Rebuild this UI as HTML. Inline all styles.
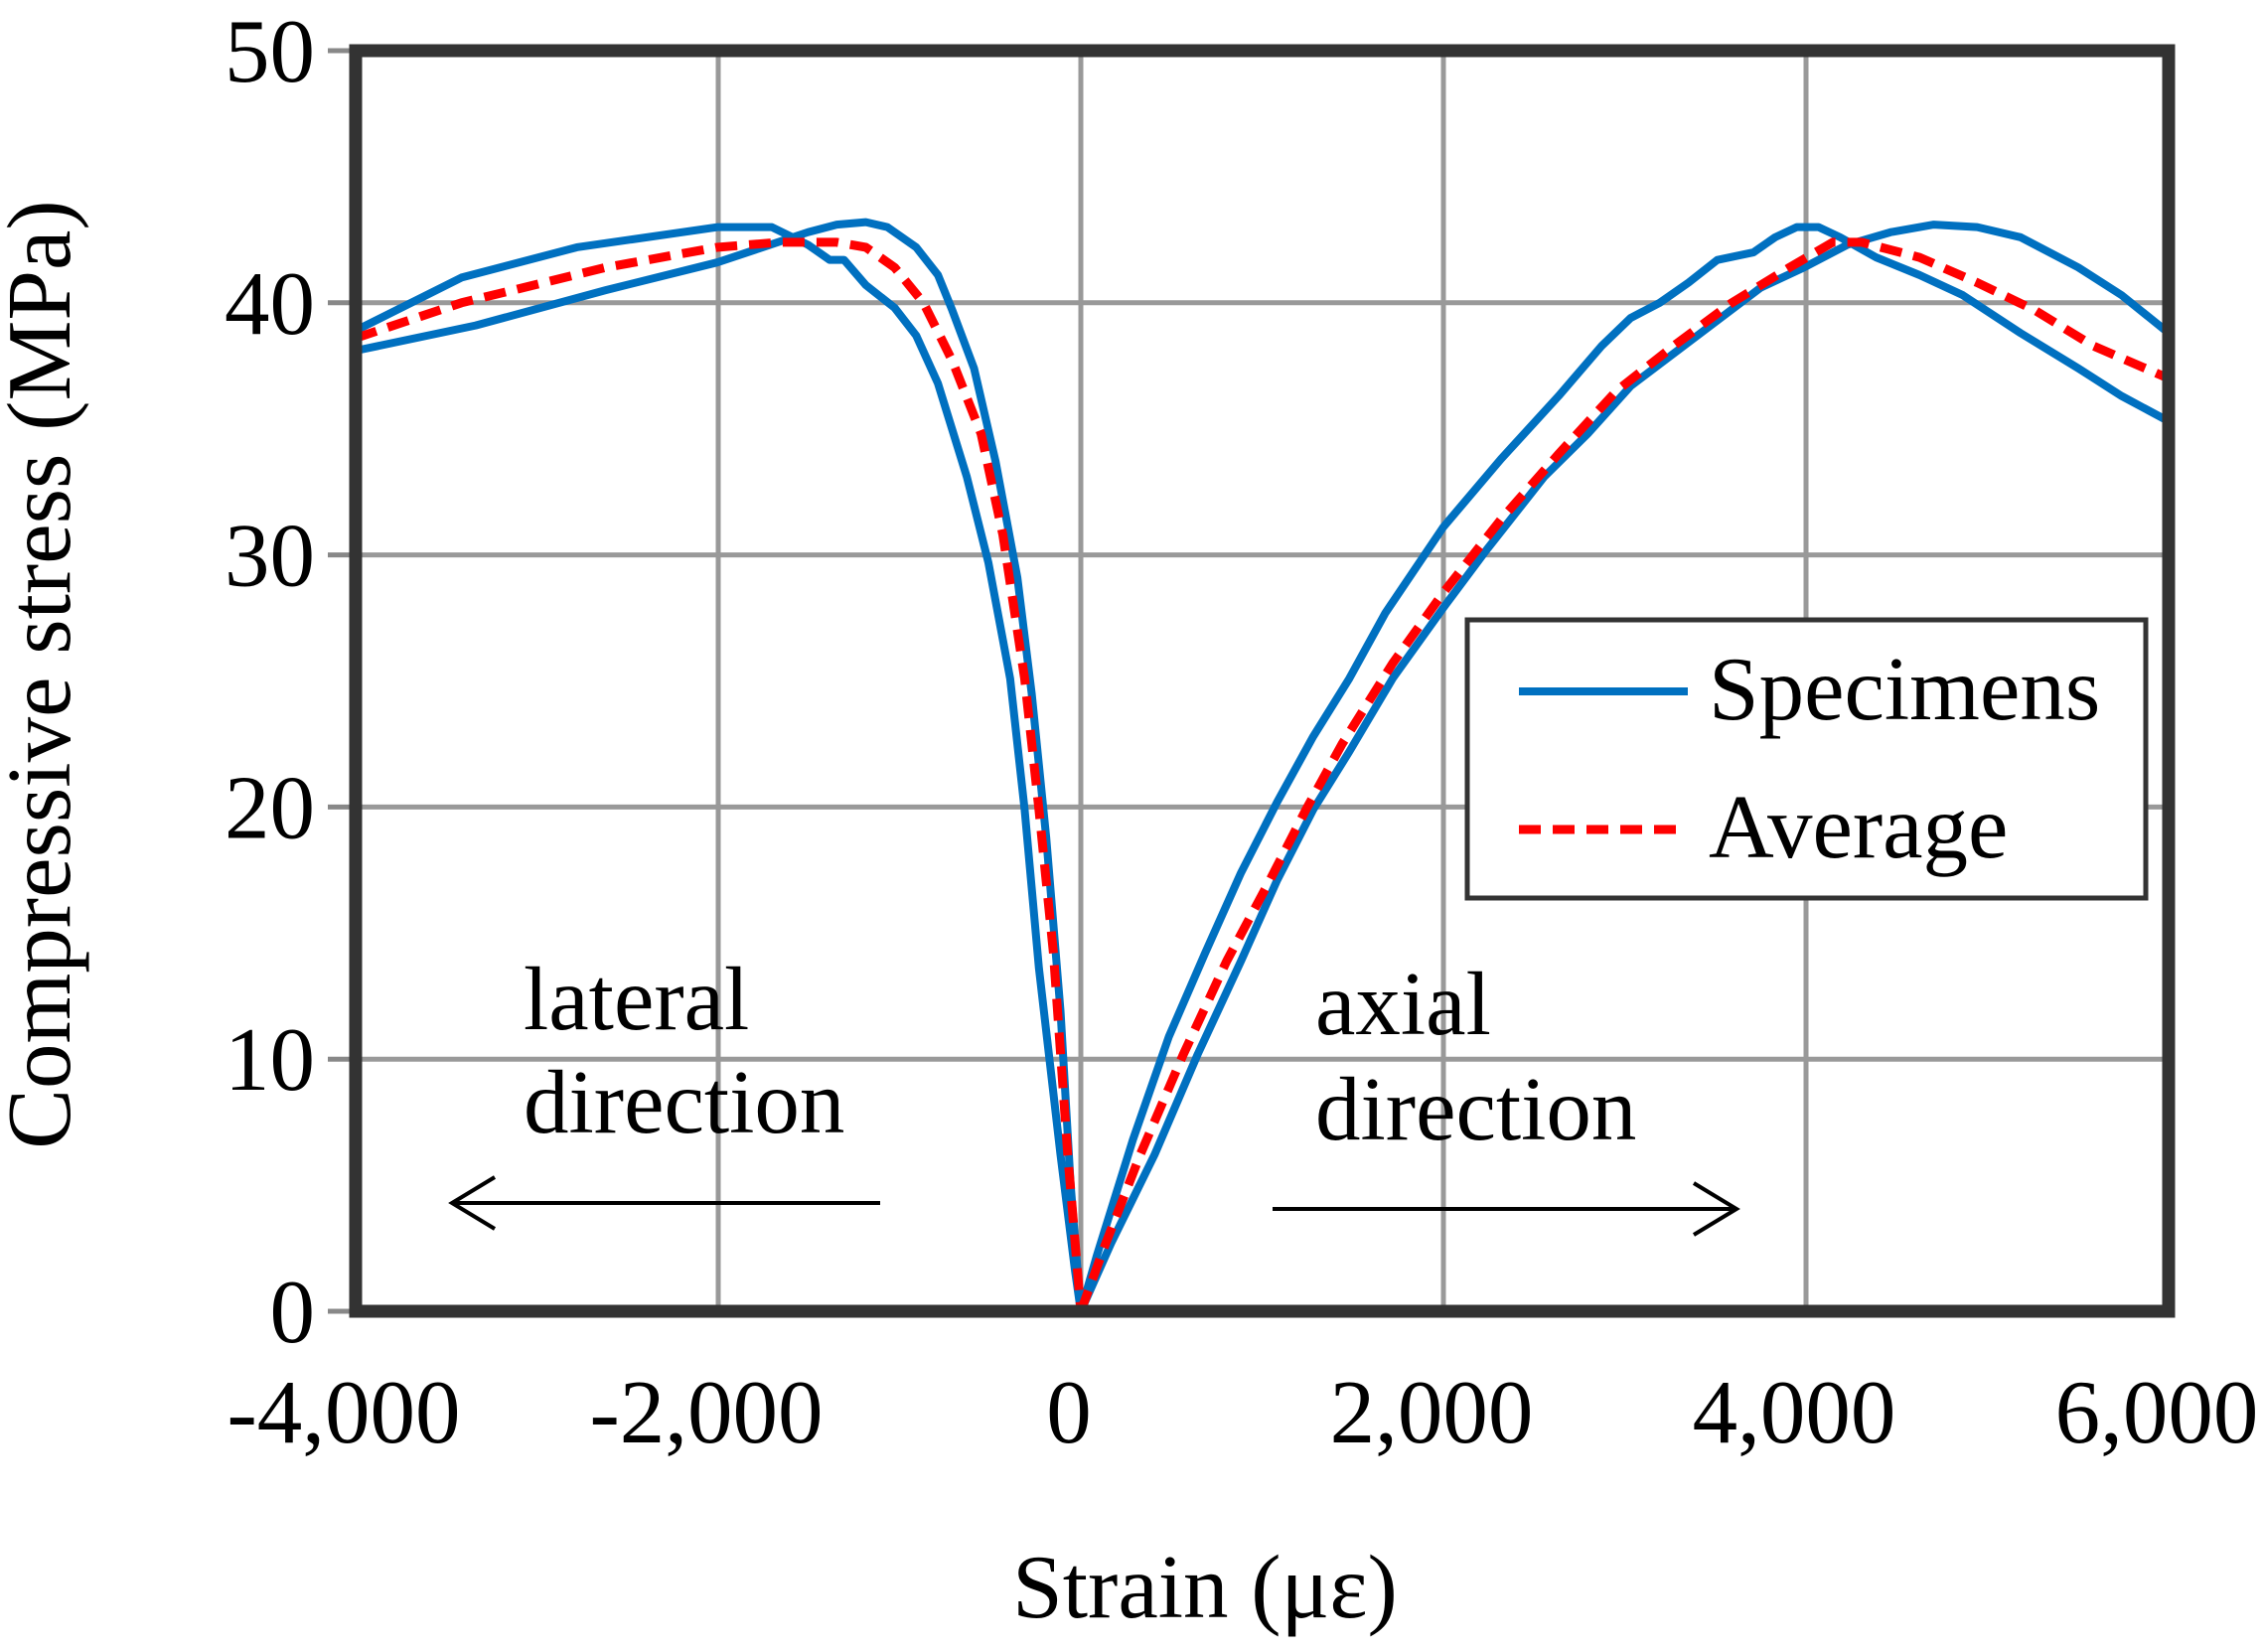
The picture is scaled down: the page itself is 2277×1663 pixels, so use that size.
<!DOCTYPE html>
<html><head><meta charset="utf-8"><style>
html,body{margin:0;padding:0;background:#fff;}
svg{display:block;font-family:"Liberation Serif",serif;}
</style></head><body>
<svg id="chart" width="2277" height="1663" viewBox="0 0 2277 1663" xmlns="http://www.w3.org/2000/svg">
<rect x="0" y="0" width="2277" height="1663" fill="#fff"/>
<g id="grid"></g>
<g id="series"></g>
<rect x="358" y="51" width="1825" height="1269" fill="none" stroke="#333" stroke-width="13"/>
<g id="ticks"></g>
<text x="70" y="679" font-size="91" text-anchor="middle" transform="rotate(-90 70 679)">Compressive stress (MPa)</text>
<text x="1213" y="1628" font-size="91" text-anchor="middle">Strain (με)</text>
<text x="527" y="1036" font-size="91">lateral</text>
<text x="527" y="1140" font-size="91">direction</text>
<text x="1324" y="1041" font-size="91">axial</text>
<text x="1324" y="1147" font-size="91">direction</text>
<g stroke="#000" stroke-width="4" fill="none">
<line x1="886" y1="1211" x2="455" y2="1211"/><polyline points="498,1185 455,1211 498,1237"/></g>
<g stroke="#000" stroke-width="4" fill="none">
<line x1="1281" y1="1217" x2="1748" y2="1217"/><polyline points="1705,1191 1748,1217 1705,1243"/></g>
<g>
<rect x="1477" y="624" width="683" height="280" fill="#fff" stroke="#333" stroke-width="5"/>
<line x1="1529" y1="696" x2="1699" y2="696" stroke="#0070C0" stroke-width="8"/>
<text x="1720" y="724" font-size="91">Specimens</text>
<line x1="1529" y1="835" x2="1699" y2="835" stroke="#FF0000" stroke-width="9" stroke-dasharray="22,12"/>
<text x="1720" y="863" font-size="91">Average</text>
</g>
</svg>
<script>
const xTicks = [-4000, -2000, 0, 2000, 4000, 6000];
const xTickLabels = ["-4,000", "-2,000", "0", "2,000", "4,000", "6,000"];
const yTicks = [0, 10, 20, 30, 40, 50];
const yTickLabels = ["0", "10", "20", "30", "40", "50"];

const latSpec1X = [-4000,-3416,-2780,-2006,-1704,-1505,-1385,-1306,-1186,-1027,-908,-788,-629,-510,-390,-310,-231,-112,-32,0];
const latSpec1Y = [38.9,41.0,42.2,43.0,43.0,42.3,41.7,41.7,40.7,39.8,38.7,36.8,33.1,29.7,25.1,19.9,13.6,6.2,1.6,0];
const latSpec2X = [-4000,-3338,-2621,-2006,-1505,-1346,-1186,-1067,-908,-788,-709,-589,-470,-350,-271,-191,-112,-56,0];
const latSpec2Y = [38.1,39.1,40.5,41.6,42.8,43.1,43.2,43.0,42.2,41.1,39.7,37.4,33.7,29.1,24.5,18.8,11.9,5.0,0];
const latAvgX = [-4000,-3416,-2621,-2006,-1664,-1346,-1186,-1027,-868,-709,-550,-430,-310,-231,-151,-72,0];
const latAvgY = [38.6,40.0,41.4,42.2,42.4,42.4,42.2,41.4,40.0,37.7,34.8,30.8,25.1,19.9,14.2,6.2,0];

const axSpec1X = [0,88,287,486,685,884,1083,1282,1481,1680,1999,2317,2635,2874,3033,3193,3352,3511,3710,3830,3949,4069,4188,4387,4626,4865,5183,5502,5741,6000];
const axSpec1Y = [0,2.2,6.8,10.9,14.2,17.4,20.2,22.8,25.1,27.7,31.1,33.8,36.3,38.3,39.4,40.0,40.8,41.7,42.0,42.6,43.0,43.0,42.6,41.8,41.1,40.3,38.8,37.4,36.3,35.3];
const axSpec2X = [0,167,406,645,884,1083,1282,1481,1720,1999,2238,2556,2795,3033,3272,3511,3750,3989,4228,4467,4705,4944,5183,5502,5741,6000];
const axSpec2Y = [0,2.7,6.2,10.2,13.9,17.1,19.9,22.2,25.1,27.9,30.2,33.1,34.8,36.7,38.0,39.3,40.6,41.4,42.3,42.8,43.1,43.0,42.6,41.4,40.3,38.8];
const axAvgX = [0,127,327,566,805,1043,1242,1441,1720,1999,2317,2635,2954,3272,3591,3909,4148,4307,4626,4944,5263,5582,6000];
const axAvgY = [0,2.5,6.2,10.2,13.9,17.1,19.9,22.5,25.7,28.5,31.4,34.0,36.5,38.3,40.0,41.4,42.4,42.4,41.8,40.8,39.7,38.3,37.0];

const NS = "http://www.w3.org/2000/svg";
const X0 = 358, X1 = 2183, Y0 = 1320, Y1 = 51;
function sx(v){ return X0 + (v - (-4000)) / 10000 * (X1 - X0); }
function sy(v){ return Y0 - v / 50 * (Y0 - Y1); }

const grid = document.getElementById('grid');
const ticks = document.getElementById('ticks');
xTicks.forEach((t, i) => {
  const l = document.createElementNS(NS, 'line');
  l.setAttribute('x1', sx(t)); l.setAttribute('x2', sx(t));
  l.setAttribute('y1', Y1); l.setAttribute('y2', Y0);
  l.setAttribute('stroke', '#999'); l.setAttribute('stroke-width', '5');
  
  
  grid.appendChild(l);
  const tx = document.createElementNS(NS, 'text');
  tx.setAttribute('x', sx(t) - 12); tx.setAttribute('y', 1452);
  tx.setAttribute('font-size', '91'); tx.setAttribute('text-anchor', 'middle');
  tx.textContent = xTickLabels[i];
  
  
  ticks.appendChild(tx);
});
yTicks.forEach((t, i) => {
  const l = document.createElementNS(NS, 'line');
  l.setAttribute('x1', X0); l.setAttribute('x2', X1);
  l.setAttribute('y1', sy(t)); l.setAttribute('y2', sy(t));
  l.setAttribute('stroke', '#999'); l.setAttribute('stroke-width', '5');
  
  
  grid.appendChild(l);
  const tk = document.createElementNS(NS, 'line');
  tk.setAttribute('x1', 330); tk.setAttribute('x2', X0);
  tk.setAttribute('y1', sy(t)); tk.setAttribute('y2', sy(t));
  tk.setAttribute('stroke', '#888'); tk.setAttribute('stroke-width', '5');
  
  
  grid.appendChild(tk);
  const tx = document.createElementNS(NS, 'text');
  tx.setAttribute('x', 317); tx.setAttribute('y', sy(t) + 31);
  tx.setAttribute('font-size', '91'); tx.setAttribute('text-anchor', 'end');
  tx.textContent = yTickLabels[i];
  
  
  ticks.appendChild(tx);
});

const series = document.getElementById('series');
function drawLine(xs, ys, color, width, dash, name){
  const p = document.createElementNS(NS, 'polyline');
  p.setAttribute('points', xs.map((x, i) => sx(x) + ',' + sy(ys[i])).join(' '));
  p.setAttribute('fill', 'none');
  p.setAttribute('stroke', color);
  p.setAttribute('stroke-width', width);
  p.setAttribute('stroke-linejoin', 'round');
  if (dash) p.setAttribute('stroke-dasharray', dash);
  
  
  series.appendChild(p);
}
drawLine(latSpec1X, latSpec1Y, '#0070C0', 8, null, 'specimen-1-lateral-line');
drawLine(latSpec2X, latSpec2Y, '#0070C0', 8, null, 'specimen-2-lateral-line');
drawLine(axSpec1X, axSpec1Y, '#0070C0', 8, null, 'specimen-1-axial-line');
drawLine(axSpec2X, axSpec2Y, '#0070C0', 8, null, 'specimen-2-axial-line');
drawLine(latAvgX, latAvgY, '#FF0000', 9, '22,12', 'average-lateral-line');
drawLine(axAvgX, axAvgY, '#FF0000', 9, '22,12', 'average-axial-line');
</script>
</body></html>
